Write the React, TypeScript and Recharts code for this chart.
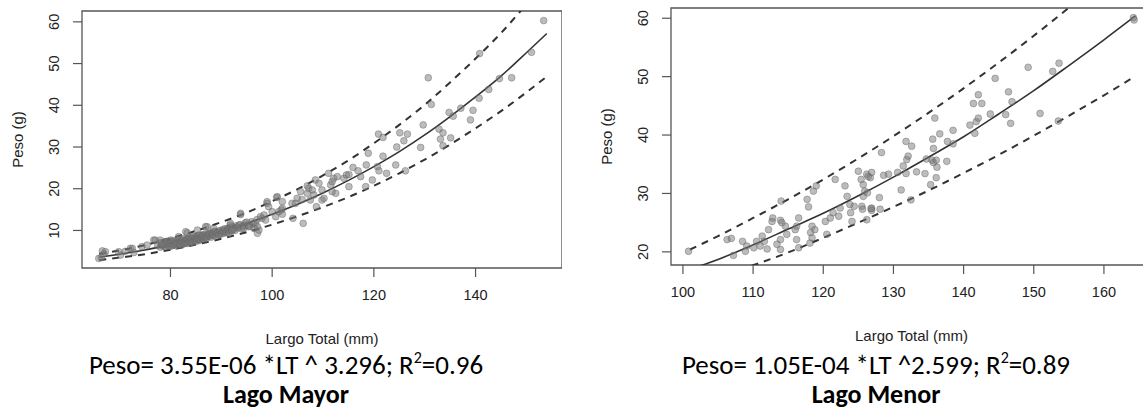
import React from "react";
import {
  ComposedChart,
  Scatter,
  Line,
  XAxis,
  YAxis,
  ReferenceArea,
} from "recharts";

// ---------- Lago Mayor ----------
const mayorXTicks = [80, 100, 120, 140];
const mayorYTicks = [10, 20, 30, 40, 50, 60];
const mayorXDomain: [number, number] = [62.6, 157.0];
const mayorYDomain: [number, number] = [1.0, 62.6];

// [Largo total (mm), Peso (g)]
const mayorPoints: [number, number][] = [
  [65.9, 3.3], [66.4, 3.5], [66.6, 5.1], [67.2, 4.9], [66.9, 4.4], [69.8, 4.9], [70.2, 4.1],
  [71.1, 5.0], [72.1, 5.7], [72.5, 5.7], [72.8, 4.7], [74.4, 6.1], [75.4, 6.5], [76.7, 7.7],
  [77.0, 7.7], [78.0, 7.7], [78.7, 6.5], [79.0, 7.3], [80.0, 7.7], [81.6, 8.5], [83.0, 9.7],
  [83.3, 9.4], [85.3, 10.1], [87.2, 10.9], [88.5, 10.5], [86.9, 10.9], [87.9, 9.3],
  [77.5, 6.4], [78.0, 6.0], [78.2, 6.9], [78.5, 6.3], [78.8, 7.2], [79.0, 6.1], [79.2, 6.8],
  [79.5, 6.5], [79.8, 7.0], [80.0, 6.2], [80.1, 7.4], [80.3, 6.8], [80.5, 6.5], [80.7, 7.1],
  [81.0, 6.9], [81.2, 6.3], [81.4, 7.5], [81.6, 6.8], [81.8, 7.2], [82.0, 7.0], [82.2, 6.6],
  [82.4, 7.7], [82.6, 7.3], [82.8, 6.9], [83.0, 7.6], [83.2, 7.1], [83.4, 8.0], [83.6, 7.4],
  [83.8, 7.0], [84.0, 7.8], [84.2, 8.3], [84.4, 7.5], [84.6, 7.9], [84.8, 8.5], [85.0, 7.7],
  [85.2, 8.1], [85.4, 8.8], [85.6, 7.6], [85.8, 8.3], [86.0, 8.0], [86.2, 8.6], [86.4, 9.0],
  [86.6, 8.2], [86.8, 8.7], [87.0, 8.4], [87.3, 9.1], [87.6, 8.6], [87.9, 8.9], [88.2, 9.4],
  [88.5, 8.8], [88.8, 9.6], [89.1, 9.2], [89.4, 9.8], [89.7, 9.1], [90.0, 9.6], [90.3, 10.2],
  [90.6, 9.4], [90.9, 10.0], [91.2, 10.5], [91.5, 9.8], [91.8, 10.4], [92.1, 10.9], [92.5, 10.3],
  [92.9, 11.1], [93.3, 10.6], [93.7, 11.4], [94.2, 11.0], [94.7, 11.8], [95.2, 11.3], [96.0, 12.1],
  [97.0, 12.6], [98.0, 12.9],
  [78.1, 7.1], [78.4, 6.6], [78.9, 6.8], [79.3, 7.4], [79.6, 6.3], [79.9, 6.9], [80.2, 7.2],
  [80.4, 6.4], [80.6, 7.6], [80.9, 6.6], [81.1, 7.3], [81.3, 6.9], [81.5, 7.9], [81.7, 7.0],
  [81.9, 6.6], [82.1, 7.5], [82.3, 7.1], [82.5, 8.0], [82.7, 6.8], [82.9, 7.4], [83.1, 7.9],
  [83.3, 6.9], [83.5, 7.7], [83.7, 8.2], [83.9, 7.3], [84.1, 8.0], [84.3, 7.1], [84.5, 8.6],
  [84.7, 7.7], [84.9, 8.1], [85.1, 7.4], [85.3, 8.4], [85.5, 7.9], [85.7, 8.9], [85.9, 7.8],
  [86.1, 8.4], [86.3, 8.8], [86.5, 7.9], [86.7, 8.5], [86.9, 9.2], [87.1, 8.1], [87.4, 8.8],
  [87.7, 9.3], [88.0, 8.4], [88.3, 9.0], [88.6, 9.8], [88.9, 8.7], [89.2, 9.5], [89.5, 9.0],
  [89.8, 10.0], [90.1, 9.2], [90.4, 9.8], [90.7, 10.4], [91.0, 9.5], [91.3, 10.1], [91.6, 10.7],
  [92.0, 9.9], [92.3, 10.6], [92.7, 10.0], [93.1, 10.8], [93.5, 11.3], [94.0, 10.4], [94.5, 11.1],
  [95.0, 12.0], [95.6, 11.0], [96.3, 11.6],
  [91.5, 9.3], [91.8, 11.3], [92.1, 10.1], [91.8, 11.7], [93.8, 13.8], [93.8, 14.1], [94.4, 10.5],
  [95.4, 10.9], [96.4, 10.5], [96.7, 11.7], [97.1, 9.3], [97.4, 10.1], [97.1, 10.9], [97.7, 13.3],
  [98.4, 13.7], [98.7, 12.5], [99.0, 16.9], [99.0, 16.5], [99.3, 15.7], [100.0, 14.5], [100.7, 13.3],
  [100.9, 17.9], [101.0, 18.1], [101.3, 14.5], [102.0, 15.3], [102.0, 16.9], [101.8, 14.9], [102.0, 13.9],
  [103.9, 16.5], [104.1, 12.9], [104.9, 17.7], [104.6, 16.5], [105.6, 19.3], [105.9, 17.4], [106.1, 11.7],
  [106.9, 18.9], [106.9, 20.7], [107.2, 20.1], [107.5, 17.3], [107.9, 19.7], [108.2, 18.5], [108.5, 22.1],
  [108.7, 15.7], [109.2, 21.3], [109.8, 19.7], [109.8, 17.3], [110.2, 17.7], [111.1, 23.7], [111.5, 20.9],
  [111.8, 21.7], [111.8, 19.3], [112.1, 22.5], [112.5, 18.9], [112.8, 22.9], [114.1, 22.5], [114.6, 23.3],
  [115.1, 23.4], [115.1, 20.5], [115.9, 25.1], [116.9, 24.3], [117.4, 22.9], [118.4, 20.5], [118.5, 25.7],
  [118.9, 28.5], [119.7, 22.1], [120.7, 25.3], [120.9, 33.1], [121.0, 24.3], [121.8, 32.3], [121.8, 27.8],
  [122.5, 23.7], [124.3, 25.7], [124.5, 30.0], [125.1, 33.4], [125.9, 31.5], [126.2, 24.3], [126.6, 33.1],
  [129.2, 29.9], [129.7, 35.3], [130.7, 46.6], [131.3, 40.2], [132.8, 34.3], [133.1, 31.9], [133.6, 33.4],
  [133.6, 30.3], [134.8, 38.3], [135.1, 32.2], [135.6, 37.4], [137.1, 39.3], [139.0, 36.5], [139.5, 38.8],
  [140.7, 41.7], [140.8, 52.4], [142.6, 43.8], [144.7, 46.4], [147.1, 46.6], [151.0, 52.7], [153.4, 60.3],
];

const mayorCurveX = [66, 70, 75, 80, 85, 90, 95, 100, 105, 110, 115, 120, 125, 130, 135, 140, 145, 150, 154];
const mayorFit = [3.6, 4.3, 5.3, 6.6, 8.1, 9.8, 11.7, 13.9, 16.3, 19.0, 22.0, 25.3, 28.9, 32.9, 37.3, 42.0, 47.0, 52.6, 57.2];
const mayorUpper = [4.4, 5.2, 6.5, 8.1, 9.9, 12.0, 14.3, 17.0, 19.9, 23.2, 26.8, 30.9, 35.3, 40.1, 45.5, 51.2, 57.3, 64.2, 69.8];
const mayorLower = [2.9, 3.5, 4.3, 5.4, 6.6, 8.0, 9.6, 11.4, 13.4, 15.6, 18.0, 20.7, 23.7, 27.0, 30.6, 34.5, 38.6, 43.1, 46.9];

// ---------- Lago Menor ----------
const menorXTicks = [100, 110, 120, 130, 140, 150, 160];
const menorYTicks = [20, 30, 40, 50, 60];
const menorXDomain: [number, number] = [98.3, 166.85];
const menorYDomain: [number, number] = [17.75, 61.75];

const menorPoints: [number, number][] = [
  [100.8, 20.1], [106.3, 22.1], [106.9, 22.3], [107.2, 19.4], [108.5, 21.8], [109.1, 21.0], [108.9, 20.1],
  [110.1, 20.7], [110.5, 21.8], [111.0, 21.0], [111.3, 22.7], [111.6, 21.8], [112.0, 20.5], [112.2, 23.8],
  [112.7, 25.2], [112.8, 25.8], [114.0, 28.7], [113.9, 25.4], [114.1, 25.0], [113.9, 22.1], [113.4, 21.3],
  [113.9, 20.4], [114.6, 24.4], [114.8, 23.0], [116.0, 23.8], [116.2, 22.1], [116.5, 25.8], [116.5, 20.7],
  [116.2, 24.4], [117.7, 29.0], [117.9, 27.7], [118.4, 24.4], [118.2, 23.3], [118.4, 22.4], [118.1, 21.5],
  [118.6, 30.4], [119.0, 31.3], [118.8, 23.8], [120.3, 25.2], [120.5, 23.0], [121.0, 25.8], [121.4, 26.7],
  [121.7, 32.4], [122.2, 26.1], [122.4, 27.5], [123.1, 31.3], [123.4, 29.5], [123.8, 28.1], [123.9, 26.7],
  [124.1, 25.2], [124.4, 27.8], [125.0, 33.8], [125.4, 32.4], [125.5, 27.8], [125.7, 29.5], [125.9, 30.4],
  [126.2, 33.3], [126.3, 30.1], [126.7, 32.7], [126.9, 33.6], [126.9, 27.5], [126.9, 27.1], [126.2, 25.5],
  [128.0, 29.3], [128.1, 27.3], [126.4, 32.9], [125.7, 31.5], [125.6, 27.3], [126.8, 27.4], [128.3, 37.0],
  [128.6, 33.1], [129.3, 33.3], [130.6, 33.6], [131.1, 30.6], [131.4, 34.7], [131.8, 38.9], [131.8, 33.4],
  [131.9, 35.8], [132.1, 36.4], [132.5, 28.9], [132.6, 38.1], [133.3, 33.7], [134.5, 33.4], [134.7, 35.9],
  [135.3, 31.5], [135.5, 35.7], [135.6, 39.3], [135.7, 37.7], [135.7, 35.3], [135.9, 42.9], [136.1, 35.7],
  [136.1, 32.7], [136.2, 34.5], [136.6, 40.2], [137.6, 35.5], [137.7, 38.9], [138.5, 40.8], [138.5, 38.5],
  [140.9, 41.7], [141.4, 45.4], [141.6, 40.3], [141.8, 42.3], [142.1, 42.9], [142.1, 46.9], [142.6, 45.4],
  [143.8, 43.6], [144.5, 49.7], [146.0, 43.5], [146.4, 47.4], [146.7, 42.0], [146.9, 45.7], [149.2, 51.6],
  [150.9, 43.7], [152.7, 50.9], [153.5, 42.4], [153.6, 52.3], [164.2, 60.1], [164.3, 59.7],
];

const menorCurveX = [101, 105, 110, 115, 120, 125, 130, 135, 140, 145, 150, 155, 160, 164.5];
const menorFit = [17.0, 18.7, 21.2, 23.9, 26.6, 29.6, 32.8, 36.2, 39.7, 43.6, 47.6, 51.9, 56.3, 60.4];
const menorUpper = [20.4, 22.7, 25.8, 29.0, 32.4, 36.0, 39.8, 43.8, 48.0, 52.4, 57.0, 61.8, 66.8, 71.5];
const menorLower = [14.1, 15.7, 17.7, 19.9, 22.4, 25.0, 27.7, 30.5, 33.5, 36.6, 39.9, 43.3, 46.8, 50.1];

// ---------- helpers ----------
const toPoints = (pts: [number, number][]) => pts.map(([x, y]) => ({ x, y }));
const toCurve = (xs: number[], ys: number[]) => xs.map((x, i) => ({ x, y: ys[i] }));

const AXIS_FONT = "'Liberation Sans', Arial, sans-serif";
const BOX = "#555";
const TICK_FONT_SIZE = 14.5;
const TITLE_FONT_SIZE = 15;

const dotShape = (props: any) => (
  <circle
    cx={props.cx}
    cy={props.cy}
    r={3.4}
    fill="#7a7a7a"
    fillOpacity={0.5}
    stroke="#606060"
    strokeOpacity={0.5}
    strokeWidth={0.8}
  />
);

const XTick = ({ x, y, payload }: any) => (
  <text
    x={x}
    y={y + 16}
    textAnchor="middle"
    dominantBaseline="central"
    fontSize={TICK_FONT_SIZE}
    fontFamily={AXIS_FONT}
    fill="#222"
  >
    {payload.value}
  </text>
);

const YTick = ({ x, y, payload }: any) => (
  <text
    x={x - 17}
    y={y}
    transform={`rotate(-90, ${x - 17}, ${y})`}
    textAnchor="middle"
    dominantBaseline="central"
    fontSize={TICK_FONT_SIZE}
    fontFamily={AXIS_FONT}
    fill="#222"
  >
    {payload.value}
  </text>
);

const XTitle = ({ viewBox }: any) => (
  <text
    x={viewBox.x + viewBox.width / 2}
    y={viewBox.y + 70}
    textAnchor="middle"
    dominantBaseline="central"
    fontSize={TITLE_FONT_SIZE}
    fontFamily={AXIS_FONT}
    fill="#222"
  >
    Largo Total (mm)
  </text>
);

const YTitle = ({ viewBox }: any) => {
  const cx = viewBox.x + 17;
  const cy = viewBox.y + viewBox.height / 2;
  return (
    <text
      x={cx}
      y={cy}
      transform={`rotate(-90, ${cx}, ${cy})`}
      textAnchor="middle"
      dominantBaseline="central"
      fontSize={TITLE_FONT_SIZE}
      fontFamily={AXIS_FONT}
      fill="#222"
    >
      Peso (g)
    </text>
  );
};

type PanelProps = {
  width: number;
  height: number;
  top: number;
  xDomain: [number, number];
  yDomain: [number, number];
  xTicks: number[];
  yTicks: number[];
  points: [number, number][];
  curveX: number[];
  fit: number[];
  upper: number[];
  lower: number[];
};

function LengthWeightPanel(p: PanelProps) {
  return (
    <ComposedChart
      width={p.width}
      height={p.height}
      margin={{ top: p.top, right: 0, bottom: 0, left: 0 }}
    >
      <XAxis
        type="number"
        dataKey="x"
        domain={p.xDomain}
        ticks={p.xTicks}
        interval={0}
        allowDataOverflow
        height={p.height - p.top - 257}
        tickSize={9}
        axisLine={false}
        tickLine={{ stroke: BOX, strokeWidth: 1.2 }}
        tick={<XTick />}
        label={<XTitle />}
      />
      <YAxis
        type="number"
        dataKey="y"
        domain={p.yDomain}
        ticks={p.yTicks}
        interval={0}
        allowDataOverflow
        width={82}
        tickSize={9}
        axisLine={false}
        tickLine={{ stroke: BOX, strokeWidth: 1.2 }}
        tick={<YTick />}
        label={<YTitle />}
      />
      <ReferenceArea
        x1={p.xDomain[0]}
        x2={p.xDomain[1]}
        y1={p.yDomain[0]}
        y2={p.yDomain[1]}
        fill="none"
        fillOpacity={0}
        stroke={BOX}
        strokeWidth={1.3}
      />
      <Scatter data={toPoints(p.points)} dataKey="y" shape={dotShape} isAnimationActive={false} />
      <Line
        data={toCurve(p.curveX, p.fit)}
        dataKey="y"
        type="monotone"
        stroke="#333"
        strokeWidth={1.6}
        dot={false}
        isAnimationActive={false}
      />
      <Line
        data={toCurve(p.curveX, p.upper)}
        dataKey="y"
        type="monotone"
        stroke="#333"
        strokeWidth={2}
        strokeDasharray="7 6"
        dot={false}
        isAnimationActive={false}
      />
      <Line
        data={toCurve(p.curveX, p.lower)}
        dataKey="y"
        type="monotone"
        stroke="#333"
        strokeWidth={2}
        strokeDasharray="7 6"
        dot={false}
        isAnimationActive={false}
      />
    </ComposedChart>
  );
}

const captionStyle: React.CSSProperties = {
  position: "absolute",
  fontFamily: "Carlito, Calibri, Lato, 'Open Sans', sans-serif",
  fontSize: 27,
  color: "#000",
  whiteSpace: "nowrap",
  transform: "translateX(-50%)",
  lineHeight: 1,
};

const titleStyle: React.CSSProperties = {
  ...captionStyle,
  fontSize: 26,
  fontWeight: 700,
};

const supStyle: React.CSSProperties = { fontSize: 16, verticalAlign: 11, lineHeight: 0 };

export default function App() {
  return (
    <div
      style={{
        position: "fixed",
        left: 0,
        top: 0,
        width: 1143,
        height: 411,
        overflow: "hidden",
        background: "#fff",
      }}
    >
      <div style={{ position: "absolute", left: 0, top: 0 }}>
        <LengthWeightPanel
          width={562}
          height={360}
          top={11}
          xDomain={mayorXDomain}
          yDomain={mayorYDomain}
          xTicks={mayorXTicks}
          yTicks={mayorYTicks}
          points={mayorPoints}
          curveX={mayorCurveX}
          fit={mayorFit}
          upper={mayorUpper}
          lower={mayorLower}
        />
      </div>
      <div style={{ position: "absolute", left: 589, top: 0 }}>
        <LengthWeightPanel
          width={563}
          height={360}
          top={8}
          xDomain={menorXDomain}
          yDomain={menorYDomain}
          xTicks={menorXTicks}
          yTicks={menorYTicks}
          points={menorPoints}
          curveX={menorCurveX}
          fit={menorFit}
          upper={menorUpper}
          lower={menorLower}
        />
      </div>

      <div style={{ ...captionStyle, left: 286, top: 351 }}>
        Peso= 3.55E-06 *LT ^ 3.296; R<sup style={supStyle}>2</sup>=0.96
      </div>
      <div style={{ ...titleStyle, left: 286, top: 381 }}>Lago Mayor</div>
      <div style={{ ...captionStyle, left: 876, top: 351 }}>
        Peso= 1.05E-04 *LT ^2.599; R<sup style={supStyle}>2</sup>=0.89
      </div>
      <div style={{ ...titleStyle, left: 876, top: 381 }}>Lago Menor</div>
    </div>
  );
}
